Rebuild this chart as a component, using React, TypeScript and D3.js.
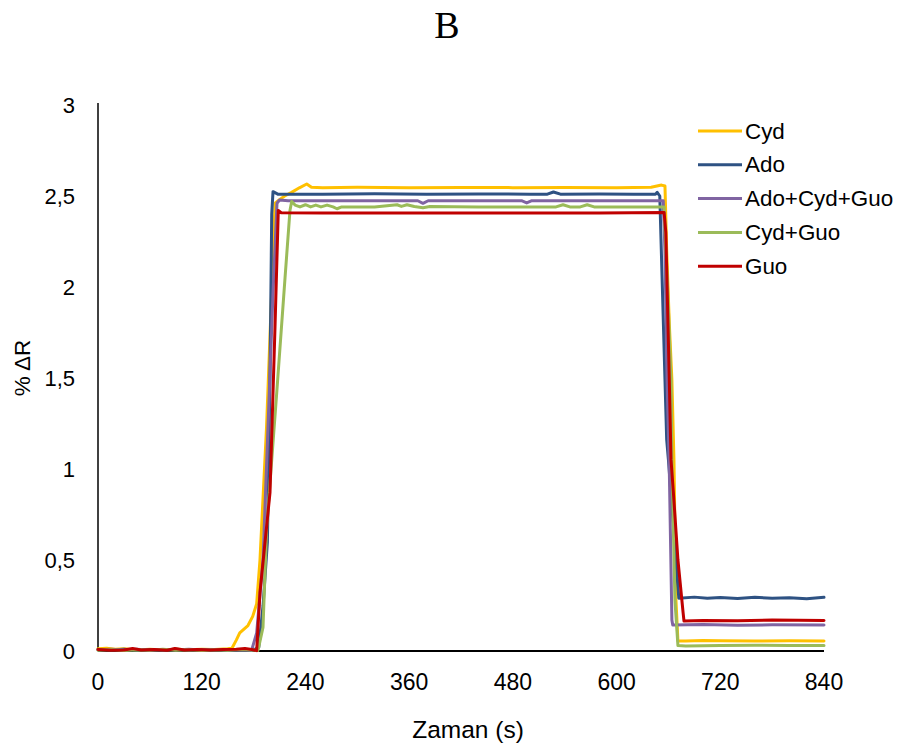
import React from "react";
import * as d3 from "d3";

type P = [number, number];

const xTicks = [0, 120, 240, 360, 480, 600, 720, 840];
const yTicks = [0, 0.5, 1, 1.5, 2, 2.5, 3];
const yTickLabels = ["0", "0,5", "1", "1,5", "2", "2,5", "3"];
const seriesNames = ["Cyd", "Ado", "Ado+Cyd+Guo", "Cyd+Guo", "Guo"];
const seriesColors = ["#FFC000", "#2E5283", "#8064A2", "#9BBB59", "#C00000"];

const cyd: P[] = [
  [0, 0.012], [10, 0.015], [20, 0.01], [30, 0.012], [45, 0.006], [60, 0.01], [75, 0.006],
  [90, 0.01], [105, 0.007], [120, 0.01], [135, 0.008], [150, 0.012], [155, 0.015],
  [160, 0.06], [164, 0.1], [173.5, 0.14], [179, 0.19], [183.6, 0.26], [187.4, 0.5],
  [195, 1.23], [204.8, 2.46], [210, 2.48], [216, 2.5], [224, 2.52], [233, 2.545],
  [241.5, 2.566], [247, 2.548], [260, 2.546], [300, 2.548], [360, 2.546], [420, 2.547],
  [480, 2.546], [540, 2.547], [600, 2.546], [640, 2.548], [652, 2.56], [656, 2.555],
  [658, 2.2], [661, 1.8], [664, 1.49], [666.4, 1.05], [668.7, 0.28], [671, 0.055],
  [680, 0.055], [700, 0.058], [720, 0.056], [760, 0.055], [800, 0.057], [840, 0.055],
];

const ado: P[] = [
  [0, 0.008], [15, 0.005], [30, 0.01], [45, 0.004], [60, 0.008], [75, 0.005], [90, 0.009],
  [105, 0.004], [120, 0.007], [135, 0.005], [150, 0.008], [165, 0.004], [180, 0.006],
  [186, 0.02], [191, 0.25], [196, 0.6], [199, 1.5], [201, 2.4], [202.5, 2.524],
  [208, 2.51], [260, 2.51], [320, 2.512], [380, 2.51], [440, 2.511], [500, 2.51],
  [520, 2.51], [527, 2.522], [535, 2.51], [580, 2.511], [620, 2.51], [645, 2.51],
  [647, 2.52], [650, 2.5], [656, 1.49], [658, 1.16], [660, 1.05], [672, 0.29],
  [690, 0.296], [705, 0.29], [720, 0.294], [740, 0.288], [760, 0.295], [780, 0.29],
  [800, 0.293], [820, 0.287], [840, 0.295],
];

const mix3: P[] = [
  [0, 0.006], [15, 0.01], [30, 0.005], [45, 0.009], [60, 0.004], [75, 0.008], [90, 0.005],
  [105, 0.009], [120, 0.005], [135, 0.008], [150, 0.004], [165, 0.007], [177.8, 0.004],
  [183.6, 0.1], [190.9, 0.5], [196.7, 1.23], [202.5, 1.97], [207.1, 2.46], [210, 2.478],
  [220, 2.474], [300, 2.474], [370, 2.474], [376, 2.46], [382, 2.474], [440, 2.474],
  [490, 2.474], [496, 2.462], [502, 2.474], [560, 2.474], [620, 2.474], [654, 2.474],
  [656, 2.2], [658.4, 1.49], [661, 1.0], [664, 0.17], [665, 0.143], [700, 0.145],
  [740, 0.142], [780, 0.144], [840, 0.143],
];

const cydGuo: P[] = [
  [0, 0.004], [15, 0.008], [30, 0.003], [45, 0.007], [60, 0.004], [75, 0.009], [90, 0.004],
  [105, 0.007], [120, 0.003], [135, 0.007], [150, 0.004], [165, 0.008], [185.1, 0.003],
  [190.9, 0.13], [195.2, 0.68], [206.8, 1.42], [216.4, 2.05], [222.1, 2.42], [224.1, 2.47],
  [228, 2.45], [233.7, 2.44], [240, 2.452], [246, 2.44], [252, 2.45], [258, 2.44],
  [265, 2.45], [272, 2.44], [276.5, 2.43], [282, 2.44], [320, 2.44], [346, 2.452],
  [351, 2.443], [357.5, 2.452], [366, 2.442], [376, 2.436], [384, 2.442], [440, 2.44],
  [500, 2.44], [530, 2.44], [538, 2.452], [546, 2.44], [558, 2.44], [566, 2.452],
  [574, 2.44], [620, 2.44], [655, 2.44], [659, 2.0], [663, 1.49], [664, 1.05],
  [667.5, 0.28], [671, 0.03], [680, 0.027], [720, 0.03], [760, 0.032], [800, 0.03],
  [840, 0.03],
];

const guo: P[] = [
  [0, 0.008], [15, 0.004], [30, 0.006], [40, 0.014], [50, 0.005], [65, 0.008], [80, 0.004],
  [89, 0.014], [100, 0.006], [115, 0.008], [130, 0.005], [145, 0.008], [160, 0.01],
  [170, 0.014], [178, 0.008], [183.6, 0.002], [187.4, 0.32], [199, 0.87], [204.8, 1.78],
  [208.6, 2.42], [212, 2.408], [260, 2.406], [340, 2.407], [420, 2.406], [500, 2.407],
  [580, 2.406], [655, 2.41], [657, 2.3], [661, 1.49], [663, 1.05], [665.6, 0.88],
  [671, 0.5], [677, 0.21], [678, 0.165], [700, 0.168], [740, 0.166], [780, 0.17],
  [840, 0.168],
];

const allSeries = [cyd, ado, mix3, cydGuo, guo];

const W = 901;
const H = 751;
const x = d3.scaleLinear().domain([0, 840]).range([98, 824]);
const y = d3.scaleLinear().domain([0, 3]).range([651, 105]);

const line = d3
  .line<P>()
  .x((d) => x(d[0]))
  .y((d) => y(d[1]))
  .curve(d3.curveLinear);

const font = "'Liberation Sans', Arial, sans-serif";

export default function App() {
  return (
    <svg
      width={W}
      height={H}
      style={{ position: "absolute", left: 0, top: 0, background: "#fff" }}
    >
      <rect x={0} y={0} width={W} height={H} fill="#fff" />
      <text
        x={447}
        y={38}
        textAnchor="middle"
        fontFamily="'Liberation Serif', 'Times New Roman', serif"
        fontSize={38}
        fill="#000"
      >
        B
      </text>

      {/* axes */}
      <line x1={x(0)} x2={x(0)} y1={y(3) - 2} y2={y(0)} stroke="#000" strokeWidth={1.5} />
      <line x1={x(0)} x2={x(840)} y1={y(0)} y2={y(0)} stroke="#000" strokeWidth={2} />

      {yTicks.map((t, i) => (
        <text
          key={"y" + i}
          x={75}
          y={y(t)}
          textAnchor="end"
          dominantBaseline="central"
          fontFamily={font}
          fontSize={22}
          fill="#000"
        >
          {yTickLabels[i]}
        </text>
      ))}
      {xTicks.map((t, i) => (
        <text
          key={"x" + i}
          x={x(t)}
          y={682}
          textAnchor="middle"
          dominantBaseline="central"
          fontFamily={font}
          fontSize={23}
          fill="#000"
        >
          {String(t)}
        </text>
      ))}
      <text
        x={468}
        y={729}
        textAnchor="middle"
        dominantBaseline="central"
        fontFamily={font}
        fontSize={24.5}
        fill="#000"
      >
        Zaman (s)
      </text>
      <text
        transform={`translate(22,${368}) rotate(-90)`}
        textAnchor="middle"
        dominantBaseline="central"
        fontFamily={font}
        fontSize={22.5}
        fill="#000"
      >
        % ΔR
      </text>

      {allSeries.map((s, i) => (
        <path
          key={"s" + i}
          d={line(s) || ""}
          fill="none"
          stroke={seriesColors[i]}
          strokeWidth={3}
          strokeLinejoin="round"
          strokeLinecap="round"
        />
      ))}

      {seriesNames.map((n, i) => {
        const ly = 131 + i * 33.8;
        return (
          <g key={"l" + i}>
            <line x1={698} x2={742} y1={ly} y2={ly} stroke={seriesColors[i]} strokeWidth={3} />
            <text
              x={745}
              y={ly}
              dominantBaseline="central"
              fontFamily={font}
              fontSize={22.4}
              fill="#000"
            >
              {n}
            </text>
          </g>
        );
      })}
    </svg>
  );
}
